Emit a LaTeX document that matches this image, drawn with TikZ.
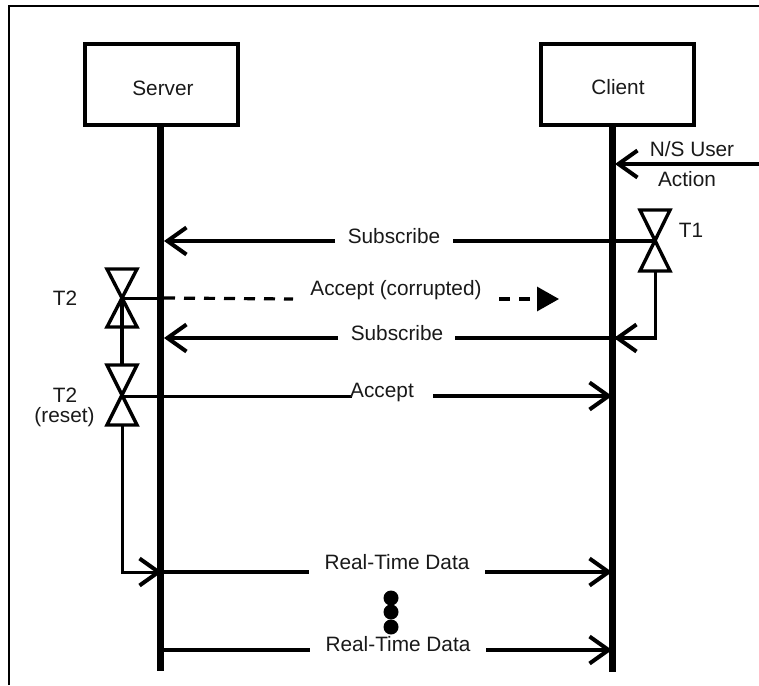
\documentclass[tikz,border=0pt]{standalone}
\usepackage{fontspec}
\setmainfont{Liberation Sans}
\usetikzlibrary{arrows.meta,calc}
\tikzset{
  lbl/.style={inner sep=0pt,font=\fontsize{20.8}{23}\selectfont,text=black!90},
  box/.style={draw,line width=4pt,minimum width=153pt,minimum height=81pt,inner sep=0pt},
  life/.style={line width=7pt},
  msg/.style={line width=3.2pt},
  thin/.style={line width=3pt},
  barb/.style={-{Straight Barb[length=19pt,width=27pt,line width=4pt]}},
  fillhead/.style={-{Triangle[length=22pt,width=24pt]}},
  dashmsg/.style={line width=3.2pt,dash pattern=on 11pt off 9pt},
  dotm/.style={circle,fill=black,inner sep=0pt,minimum size=15pt},
  bowtie/.style={line width=3.4pt,line join=miter}
}
\newcommand{\bowtieat}[3]{% centre, up, down
  \draw[bowtie] ($(#1)+(-15,-#2)$) -- ($(#1)+(15,-#2)$) -- ($(#1)+(-15,#3)$) -- ($(#1)+(15,#3)$) -- cycle;}
\begin{document}
\begin{tikzpicture}[x=1pt,y=-1pt]
\useasboundingbox (0,0) rectangle (759,685);
% frame
\coordinate (fa) at (9,685); \coordinate (fb) at (9,6); \coordinate (fc) at (759,6);
\draw[line width=2.6pt] (fa) -- (fb) -- (fc);
% boxes
\node[box] (server) at (161,84.5) {};
\node[box] (client) at (617.5,84.5) {};
\node[lbl] (serverlabel) at (163,88) {Server};
\node[lbl] (clientlabel) at (618,87) {Client};
% lifelines
\coordinate (sb) at (160,671); \coordinate (cb) at (612,672);
\draw[life] (server.south -| sb) -- (sb);
\draw[life] (client.south -| cb) -- (cb);
% timers
\coordinate (t1) at (655,241);
\coordinate (t2a) at (122,298);
\coordinate (t2b) at (122,396);
\bowtieat{t1}{31}{30}
\bowtieat{t2a}{29}{29}
\bowtieat{t2b}{31}{29}
\node[lbl] (t1label) at (691,230) {T1};
\node[lbl] (t2alabel) at (65,298) {T2};
\node[lbl] (t2blabel) at (65,395) {T2};
\node[lbl] (resetlabel) at (64.5,417) {(reset)};
% user action
\coordinate (ua) at (759,164); \coordinate (uc) at (615,164);
\draw[msg,barb] (ua) -- (uc);
\node[lbl] (userlabel) at (692,149) {N/S User};
\node[lbl] (actionlabel) at (687,179) {Action};
% subscribe 1
\coordinate (s1s) at (164,241); \coordinate (s1l) at (335,241); \coordinate (s1r) at (453,241);
\draw[msg,barb] (s1l) -- (s1s);
\draw[msg] (t1) -- (s1r);
\node[lbl] (s1label) at (394,236) {Subscribe};
% accept corrupted
\coordinate (dl) at (293,299); \coordinate (dr) at (499,299); \coordinate (de) at (559,299);
\draw[thin] (t2a) -- (160,298);
\draw[dashmsg] (164,298) -- (dl);
\draw[dashmsg] (dr) -- (537,299);
\draw[msg,fillhead] (537,299) -- (de);
\node[lbl] (dlabel) at (396,290) {Accept (corrupted)};
% subscribe 2
\coordinate (s2s) at (164,338); \coordinate (s2l) at (338,338); \coordinate (s2r) at (455,338);
\coordinate (s2c) at (614,338); \coordinate (s2b) at (655,338);
\draw[msg,barb] (s2l) -- (s2s);
\draw[msg] (s2r) -- (s2b);
\draw[thin,barb] ($(t1)+(0,30)$) -- (s2b) -- (s2c);
\node[lbl] (s2label) at (397,333) {Subscribe};
% t2 joins
\draw[line width=3.4pt] (t2a) -- ($(t2b)+(0,-31)$);
% accept
\coordinate (ae) at (612,396); \coordinate (am) at (433,396); \coordinate (al) at (352,396);
\draw[thin] (t2b) -- (al);
\draw[msg,barb] (am) -- (ae);
\node[lbl] (alabel) at (382,392) {Accept};
% real-time 1
\coordinate (ctl) at (122,572); \coordinate (rs) at (162,572);
\draw[thin,barb] ($(t2b)+(0,29)$) -- (ctl) -- (rs);
\coordinate (r1a) at (160,572); \coordinate (r1l) at (309,572); \coordinate (r1r) at (485,572); \coordinate (r1e) at (612,572);
\draw[msg] (r1a) -- (r1l);
\draw[msg,barb] (r1r) -- (r1e);
\node[lbl] (r1label) at (397,562) {Real-Time Data};
% dots
\node[dotm] (d1) at (391,598) {};
\node[dotm] (d2) at (391,612) {};
\node[dotm] (d3) at (391,627) {};
% real-time 2
\coordinate (r2a) at (160,650); \coordinate (r2l) at (310,650); \coordinate (r2r) at (486,650); \coordinate (r2e) at (612,650);
\draw[msg] (r2a) -- (r2l);
\draw[msg,barb] (r2r) -- (r2e);
\node[lbl] (r2label) at (398,644) {Real-Time Data};
\end{tikzpicture}
\end{document}
